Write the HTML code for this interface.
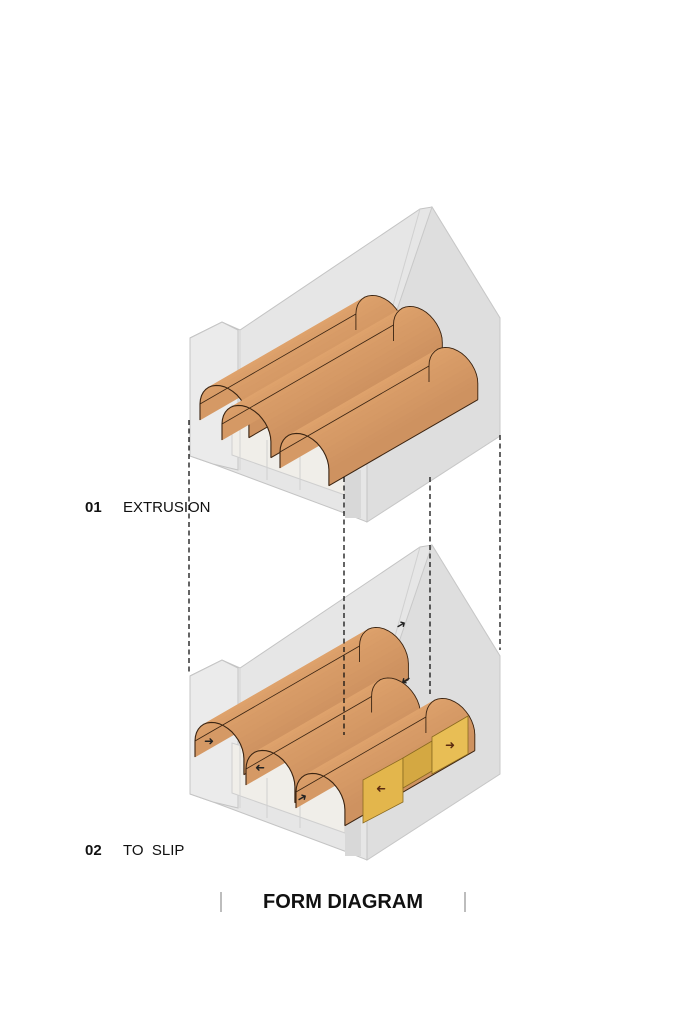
<!DOCTYPE html>
<html><head><meta charset="utf-8"><style>
html,body{margin:0;padding:0;background:#fff;width:684px;height:1024px;overflow:hidden}
svg{position:absolute;left:0;top:0}
.t{font-family:"Liberation Sans",sans-serif;fill:#111}
</style></head><body>
<svg id="s" width="684" height="1024" viewBox="0 0 684 1024" xmlns="http://www.w3.org/2000/svg">
<defs>
<g id="house">
  <polygon points="190,338 222,322 240,330 420,209 432,207 500,318 500,436 367,522 347,514 213,464 190,456" fill="#e6e6e6" stroke="#c4c4c4" stroke-width="1"/>
  <polygon points="367,522 500,436 500,318 432,207 367,398" fill="#dedede" stroke="#c8c8c8" stroke-width="1"/>
  <polygon points="190,338 222,322 238,330 238,470 213,464 190,456" fill="#ebebeb" stroke="#c4c4c4"/>
  <polygon points="232,455 345,495 345,440 232,405" fill="#f0eee9" stroke="#cfcfcf"/>
  <line x1="367" y1="398" x2="367" y2="522" stroke="#c4c4c4"/>
  <line x1="420" y1="209" x2="367" y2="398" stroke="#d0d0d0"/>
  <line x1="240" y1="330" x2="240" y2="470" stroke="#d4d4d4"/>
  <line x1="267" y1="440" x2="267" y2="480" stroke="#d0d0d0"/>
  <line x1="300" y1="450" x2="300" y2="490" stroke="#d0d0d0"/>
  <rect x="345" y="470" width="16" height="48" fill="#d8d8d8"/>
</g>
</defs>
<use href="#house"/>
<use href="#house" transform="translate(0,338)"/>
<g id="vaults"></g>
<g id="panels">
  <polygon points="363,780 403,758 403,802 363,823" fill="#e3b64c" stroke="#8a6a20" stroke-width="0.8"/>
  <polygon points="403,758 432,741 432,771 403,788" fill="#d4a842" stroke="#8a6a20" stroke-width="0.8"/>
  <polygon points="432,737 468,716 468,754 432,774" fill="#e8be55" stroke="#8a6a20" stroke-width="0.8"/>
</g>
<g stroke="#111" stroke-width="1.3" stroke-dasharray="5,3.5" fill="none">
  <line x1="189" y1="420" x2="189" y2="672"/>
  <line x1="344" y1="477" x2="344" y2="735"/>
  <line x1="430" y1="477" x2="430" y2="694"/>
  <line x1="500" y1="435" x2="500" y2="650"/>
</g>
<g fill="#222" font-family="Liberation Sans" font-size="12">
  <text x="204" y="745">➜</text>
  <text x="253" y="772" transform="rotate(180 259 768)">➜</text>
  <text x="297" y="801" transform="rotate(-30 303 797)">➜</text>
  <text x="396" y="628" transform="rotate(-30 402 624)">➜</text>
  <text x="399" y="685" transform="rotate(150 405 681)">➜</text>
  <text x="445" y="749" fill="#5a2a10">➜</text>
  <text x="374" y="793" fill="#5a2a10" transform="rotate(180 380 789)">➜</text>
</g>
<text class="t" x="85" y="512" font-size="15" font-weight="bold">01</text>
<text class="t" x="123" y="512" font-size="15">EXTRUSION</text>
<text class="t" x="85" y="855" font-size="15" font-weight="bold">02</text>
<text class="t" x="123" y="855" font-size="15">TO&#160; SLIP</text>
<line x1="221" y1="892" x2="221" y2="912" stroke="#999" stroke-width="1.3"/>
<line x1="465" y1="892" x2="465" y2="912" stroke="#999" stroke-width="1.3"/>
<text class="t" x="343" y="908" font-size="20" font-weight="bold" text-anchor="middle">FORM DIAGRAM</text>
</svg>
<script>
(function(){
var g=document.getElementById('vaults');
var u=[0.866,-0.5],v=[0.94,0.34];
function vault(P,h,r,L){
  var prof=[];prof.push([P[0],P[1]]);prof.push([P[0],P[1]-h]);
  for(var i=0;i<=18;i++){var th=Math.PI-Math.PI*i/18;
    prof.push([P[0]+v[0]*(r+r*Math.cos(th)),P[1]+v[1]*(r+r*Math.cos(th))-(h+r*Math.sin(th))]);}
  prof.push([P[0]+v[0]*2*r,P[1]+v[1]*2*r]);
  var back=prof.map(function(p){return [p[0]+u[0]*L,p[1]+u[1]*L];});
  var s='';
  for(var i=0;i<prof.length-1;i++){
    var a=prof[i],b=prof[i+1],c=back[i+1],d=back[i];
    var t=i/(prof.length-1);
    var k=1-Math.abs(t-0.35)*1.6;
    var col='rgb('+Math.round(205+18*k)+','+Math.round(145+18*k)+','+Math.round(95+14*k)+')';
    s+='<polygon points="'+[a,b,c,d].map(function(p){return p[0].toFixed(1)+','+p[1].toFixed(1);}).join(' ')+'" fill="'+col+'" stroke="'+col+'" stroke-width="0.6"/>';
  }
  var pf=prof.map(function(p){return p[0].toFixed(1)+','+p[1].toFixed(1);}).join(' ');
  s+='<polyline points="'+pf+'" fill="none" stroke="#3a2412" stroke-width="1.1"/>';
  s+='<line x1="'+prof[1][0]+'" y1="'+prof[1][1]+'" x2="'+back[1][0]+'" y2="'+back[1][1]+'" stroke="#3a2412" stroke-width="0.8"/>';
  s+='<line x1="'+prof[prof.length-1][0]+'" y1="'+prof[prof.length-1][1]+'" x2="'+back[back.length-1][0]+'" y2="'+back[back.length-1][1]+'" stroke="#3a2412" stroke-width="1"/>';
  s+='<polyline points="'+back.map(function(p){return p[0].toFixed(1)+','+p[1].toFixed(1);}).join(' ')+'" fill="none" stroke="#3a2412" stroke-width="0.9"/>';
  g.insertAdjacentHTML('beforeend',s);
}
vault([200,420],16,26,180);
vault([222,440],16,26,198);
vault([280,468],16,26,172);
vault([195,757],16,26,190);
vault([246,785],16,26,145);
vault([296,808],16,26,150);
})();
</script>
</body></html>
